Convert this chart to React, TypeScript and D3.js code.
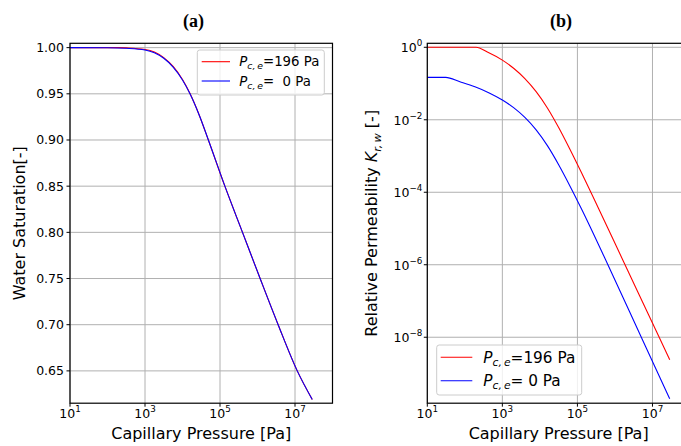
import React from 'react';
import * as d3 from 'd3';

// ---------- data ----------
// Panel (a): water saturation vs capillary pressure
const pressureSatBlue = [10, 100, 316, 1000, 1778, 3162, 5623, 10000, 15849, 28184, 48978, 134896, 398107, 1174898, 3548134, 11481536, 28840315];
const satBlue = [1.0, 0.9999, 0.9993, 0.9975, 0.9945, 0.9885, 0.979, 0.965, 0.95, 0.9265, 0.9, 0.85, 0.8, 0.75, 0.7, 0.65, 0.619];
const pressureSatRed = [10, 196, 316, 1000, 1778, 3162, 5623, 10000, 15849, 28184, 48978, 134896, 398107, 1174898, 3548134, 11481536, 28840315];
const satRed = [1.0, 1.0, 0.9997, 0.998, 0.9952, 0.9892, 0.9796, 0.9655, 0.9503, 0.9266, 0.9, 0.85, 0.8, 0.75, 0.7, 0.65, 0.619];

// Panel (b): relative permeability vs capillary pressure
const pressurePermRed = [10, 200, 398, 1000, 1995, 3981, 7943, 15849, 31623, 63096, 125893, 251189, 1778279, 14454398, 28840315];
const permRed = [1, 1, 0.741, 0.443, 0.2636, 0.1368, 0.0597, 0.0212, 6.11e-3, 1.535e-3, 3.6e-4, 8.15e-5, 1.1e-6, 1.1e-8, 2.4e-9];
const pressurePermBlue = [10, 31, 74, 186, 447, 1000, 1995, 3981, 7943, 15849, 31623, 63096, 125893, 630957, 4897788, 28840315];
const permBlue = [0.148, 0.148, 0.112, 0.0813, 0.055, 0.0351, 0.0216, 0.0116, 5.25e-3, 1.93e-3, 5.75e-4, 1.5e-4, 3.63e-5, 1.07e-6, 1.07e-8, 2.0e-10];

const xTickExps = [1, 3, 5, 7];
const satTicks = [0.65, 0.7, 0.75, 0.8, 0.85, 0.9, 0.95, 1.0];
const permTickExps = [0, -2, -4, -6, -8];
const legendLabelsA = ['=196 Pa', '=  0 Pa'];
const legendLabelsB = ['=196 Pa', '= 0 Pa'];
const seriesColors = ['#ff0000', '#0000ff'];

// ---------- layout ----------
const W = 681;
const H = 446;
const FONT = '"DejaVu Sans", sans-serif';
const GRID = '#b0b0b0';
const top = 43.3;
const bottom = 403.2;

const xA = d3.scaleLog().domain([10, 1e8]).range([70, 332.5]);
const yA = d3.scaleLinear().domain([1.0047, 0.615]).range([top, bottom]);
const xB = d3.scaleLog().domain([10, 1e8]).range([427.3, 690]);
const yB = d3.scaleLog().domain([Math.pow(10, 0.11), Math.pow(10, -9.82)]).range([top, bottom]);

const minus = (n: number) => (n < 0 ? '\u2212' + Math.abs(n) : String(n));

function PowLabel({ x, y, exp, anchor, size = 12.5 }: any) {
  return (
    <text x={x} y={y} textAnchor={anchor} fontFamily={FONT} fontSize={size} fill="#000">
      <tspan>10</tspan>
      <tspan dy={-6} fontSize={size * 0.7}>{minus(exp)}</tspan>
    </text>
  );
}

function LegendText({ x, y, label, size }: any) {
  return (
    <text x={x} y={y} fontFamily={FONT} fontSize={size} fill="#000">
      <tspan fontStyle="italic">P</tspan>
      <tspan fontStyle="italic" fontSize={size * 0.7} dy={size * 0.22}>c,{'\u2009'}e</tspan>
      <tspan dy={-size * 0.22} style={{ whiteSpace: 'pre' }}>{label}</tspan>
    </text>
  );
}

export default function App() {
  const lineA = (px: number[], vals: number[]) =>
    d3.line<number>().x((_, i) => xA(px[i])).y((v) => yA(v)).curve(d3.curveMonotoneX)(vals) || '';
  const lineB = (px: number[], vals: number[]) =>
    d3.line<number>().x((_, i) => xB(px[i])).y((v) => yB(v)).curve(d3.curveMonotoneX)(vals) || '';

  const [ax0, ax1] = xA.range();
  const [bx0, bx1] = xB.range();

  return (
    <svg width={W} height={H} viewBox={`0 0 ${W} ${H}`} style={{ position: 'absolute', left: 0, top: 0, background: '#fff' }}>
      <defs>
        <clipPath id="clipA"><rect x={ax0} y={top} width={ax1 - ax0} height={bottom - top} /></clipPath>
        <clipPath id="clipB"><rect x={bx0} y={top} width={bx1 - bx0} height={bottom - top} /></clipPath>
      </defs>
      <rect x={0} y={0} width={W} height={H} fill="#fff" />

      {/* ================= Panel (a) ================= */}
      <text x={193.5} y={27} textAnchor="middle" fontFamily='"Liberation Serif", serif' fontWeight="bold" fontSize={18}>(a)</text>
      {xTickExps.map((e) => (
        <line key={'ga' + e} x1={xA(Math.pow(10, e))} x2={xA(Math.pow(10, e))} y1={top} y2={bottom} stroke={GRID} strokeWidth={1} />
      ))}
      {satTicks.map((t) => (
        <line key={'gya' + t} x1={ax0} x2={ax1} y1={yA(t)} y2={yA(t)} stroke={GRID} strokeWidth={1} />
      ))}
      <g clipPath="url(#clipA)">
        <path d={lineA(pressureSatRed, satRed)} fill="none" stroke={seriesColors[0]} strokeWidth={1.1} />
        <path d={lineA(pressureSatBlue, satBlue)} fill="none" stroke={seriesColors[1]} strokeWidth={1.1} />
      </g>
      <rect x={ax0} y={top} width={ax1 - ax0} height={bottom - top} fill="none" stroke="#000" strokeWidth={1.2} />
      {xTickExps.map((e) => (
        <g key={'ta' + e}>
          <line x1={xA(Math.pow(10, e))} x2={xA(Math.pow(10, e))} y1={bottom} y2={bottom + 3.5} stroke="#000" strokeWidth={1} />
          <PowLabel x={xA(Math.pow(10, e))} y={417.5} exp={e} anchor="middle" />
        </g>
      ))}
      {satTicks.map((t) => (
        <g key={'tya' + t}>
          <line x1={ax0 - 3.5} x2={ax0} y1={yA(t)} y2={yA(t)} stroke="#000" strokeWidth={1} />
          <text x={ax0 - 6} y={yA(t) + 4.5} textAnchor="end" fontFamily={FONT} fontSize={12.5}>{t.toFixed(2)}</text>
        </g>
      ))}
      <text x={(ax0 + ax1) / 2} y={438.5} textAnchor="middle" fontFamily={FONT} fontSize={16}>Capillary Pressure [Pa]</text>
      <text transform={`translate(24.5, ${(top + bottom) / 2}) rotate(-90)`} textAnchor="middle" fontFamily={FONT} fontSize={16}>Water Saturation[-]</text>
      <rect x={197.3} y={50} width={127} height={45} rx={2.5} fill="#fff" fillOpacity={0.8} stroke="#cccccc" strokeWidth={1} />
      {legendLabelsA.map((lab, i) => (
        <g key={'la' + i}>
          <line x1={201.7} x2={230} y1={61.7 + i * 19.3} y2={61.7 + i * 19.3} stroke={seriesColors[i]} strokeWidth={1.1} />
          <LegendText x={239.3} y={66.3 + i * 19.3} label={lab} size={13.3} />
        </g>
      ))}

      {/* ================= Panel (b) ================= */}
      <text x={561} y={27} textAnchor="middle" fontFamily='"Liberation Serif", serif' fontWeight="bold" fontSize={18}>(b)</text>
      {xTickExps.map((e) => (
        <line key={'gb' + e} x1={xB(Math.pow(10, e))} x2={xB(Math.pow(10, e))} y1={top} y2={bottom} stroke={GRID} strokeWidth={1} />
      ))}
      {permTickExps.map((e) => (
        <line key={'gyb' + e} x1={bx0} x2={bx1} y1={yB(Math.pow(10, e))} y2={yB(Math.pow(10, e))} stroke={GRID} strokeWidth={1} />
      ))}
      <g clipPath="url(#clipB)">
        <path d={lineB(pressurePermRed, permRed)} fill="none" stroke={seriesColors[0]} strokeWidth={1.1} />
        <path d={lineB(pressurePermBlue, permBlue)} fill="none" stroke={seriesColors[1]} strokeWidth={1.1} />
      </g>
      <rect x={bx0} y={top} width={bx1 - bx0} height={bottom - top} fill="none" stroke="#000" strokeWidth={1.2} />
      {xTickExps.map((e) => (
        <g key={'tb' + e}>
          <line x1={xB(Math.pow(10, e))} x2={xB(Math.pow(10, e))} y1={bottom} y2={bottom + 3.5} stroke="#000" strokeWidth={1} />
          <PowLabel x={xB(Math.pow(10, e))} y={417.5} exp={e} anchor="middle" />
        </g>
      ))}
      {permTickExps.map((e) => (
        <g key={'tyb' + e}>
          <line x1={bx0 - 3.5} x2={bx0} y1={yB(Math.pow(10, e))} y2={yB(Math.pow(10, e))} stroke="#000" strokeWidth={1} />
          <PowLabel x={bx0 - 5} y={yB(Math.pow(10, e)) + 5} exp={e} anchor="end" />
        </g>
      ))}
      <text x={(bx0 + bx1) / 2} y={438.5} textAnchor="middle" fontFamily={FONT} fontSize={16}>Capillary Pressure [Pa]</text>
      <text transform={`translate(377, ${(top + bottom) / 2}) rotate(-90)`} textAnchor="middle" fontFamily={FONT} fontSize={16}>
        <tspan>Relative Permeability </tspan>
        <tspan fontStyle="italic">K</tspan>
        <tspan fontStyle="italic" fontSize={11.2} dy={3.5}>r,{'\u2009'}w</tspan>
        <tspan dy={-3.5}> [-]</tspan>
      </text>
      <rect x={436.7} y={345} width={145} height={50} rx={2.5} fill="#fff" fillOpacity={0.8} stroke="#cccccc" strokeWidth={1} />
      {legendLabelsB.map((lab, i) => (
        <g key={'lb' + i}>
          <line x1={440.7} x2={472.3} y1={357.3 + i * 23.4} y2={357.3 + i * 23.4} stroke={seriesColors[i]} strokeWidth={1.1} />
          <LegendText x={483.3} y={362.5 + i * 23.4} label={lab} size={15.3} />
        </g>
      ))}
    </svg>
  );
}
